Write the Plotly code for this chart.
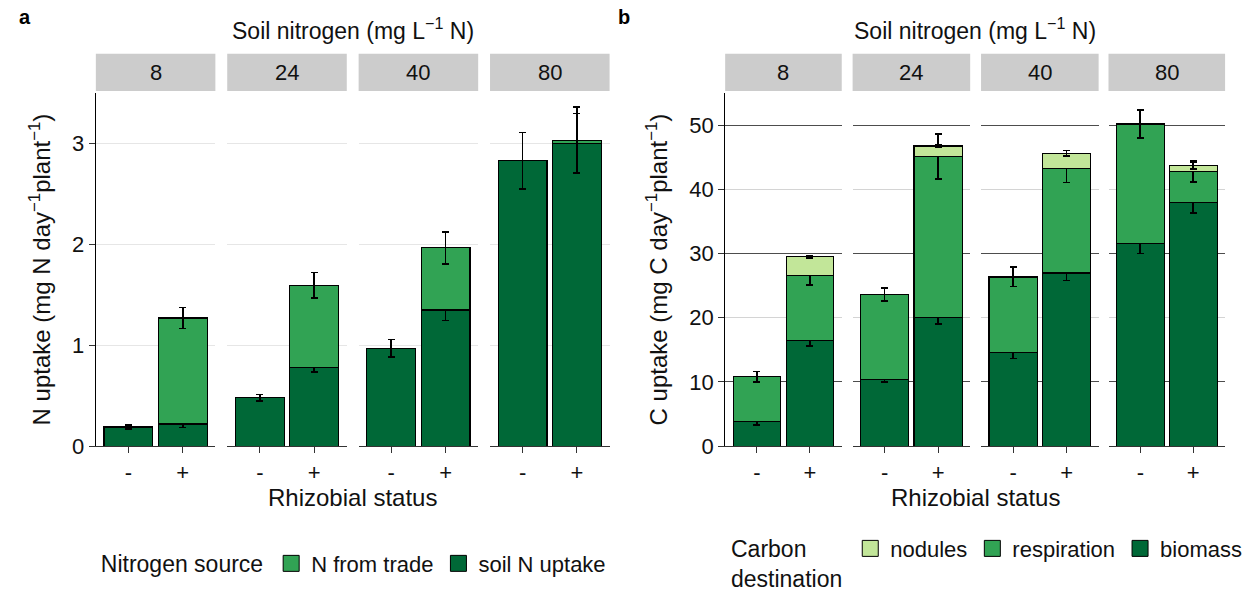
import plotly.graph_objects as go

W, H = 1247, 602
FONT = "Liberation Sans, Arial, sans-serif"

# ---------------- data ----------------
status = ["-", "+"]
soil_levels = ["8", "24", "40", "80"]

# Panel a: N uptake (mg N / day / plant); per soil-N level, values for [-, +]
soil_n_uptake = [[0.19, 0.22], [0.48, 0.78], [0.97, 1.35], [2.83, 3.00]]
soil_n_uptake_err = [[0.02, 0.035], [0.03, 0.045], [0.085, 0.105], [0.28, 0.295]]
n_from_trade = [[None, 1.05], [None, 0.815], [None, 0.615], [None, 0.03]]
n_from_trade_err = [[0, 0.105], [0, 0.125], [0, 0.16], [0, 0.33]]

# Panel b: C uptake (mg C / day / plant)
c_biomass = [[3.8, 16.45], [10.4, 20.0], [14.6, 26.95], [31.6, 37.95]]
c_biomass_err = [[0.5, 0.9], [0.4, 0.95], [0.95, 1.15], [1.6, 1.6]]
c_respiration = [[7.0, 10.15], [13.2, 25.1], [11.75, 16.3], [18.55, 4.8]]
c_respiration_err = [[0.85, 1.5], [1.0, 3.5], [1.5, 2.2], [2.2, 1.65]]
c_nodules = [[None, 2.9], [None, 1.65], [None, 2.35], [None, 0.9]]
c_nodules_err = [[0, 0.2], [0, 0.25], [0, 0.45], [0, 0.5]]

COL_DARK = "#006837"
COL_MID = "#31a354"
COL_LIGHT = "#c2e699"

# ---------------- layout geometry (pixels) ----------------
facets_a = [(97, 218), (230, 351), (363, 484), (496, 617)]
facets_b = [(734, 852), (863, 982), (993, 1112), (1122, 1240)]
plot_top, plot_bot = 95, 456
strip_top, strip_bot = 55, 93


def px(x):
    return x / W


def py(y):
    return 1 - y / H


fig = go.Figure()
layout = dict(
    width=W, height=H, autosize=False,
    margin=dict(l=0, r=0, t=0, b=0),
    paper_bgcolor="white", plot_bgcolor="white",
    font=dict(family=FONT, size=22, color="#111"),
    barmode="stack", bargap=0.1,
    showlegend=True,
)

annotations = []
shapes = []

err_style = dict(type="data", color="black", thickness=1.6, width=3.5)
bar_line = dict(color="black", width=1.2)


def add_bar(vals, errs, color, xa, ya, name):
    fig.add_trace(go.Bar(
        x=status, y=vals, xaxis=xa, yaxis=ya, name=name, showlegend=False,
        marker=dict(color=color, line=bar_line),
        error_y=dict(array=errs, **err_style),
    ))


def axis_common(k, domain, first, yrange, dtick, title, ytitle_standoff, gridcol):
    xa = "xaxis" if k == 1 else f"xaxis{k}"
    ya = "yaxis" if k == 1 else f"yaxis{k}"
    layout[xa] = dict(
        domain=[px(domain[0]), px(domain[1])], anchor=f"y{k}" if k > 1 else "y",
        type="category", categoryorder="array", categoryarray=status,
        range=[-0.6, 1.6], showgrid=False, zeroline=False,
        showline=True, linecolor="#333", linewidth=1.2,
        ticks="outside", ticklen=6, tickcolor="#333", tickwidth=1.2,
        tickfont=dict(size=22, color="#111"),
    )
    layout[ya] = dict(
        domain=[py(plot_bot), py(plot_top)], anchor=f"x{k}" if k > 1 else "x",
        range=yrange, dtick=dtick, tick0=0, zeroline=False,
        showgrid=True, gridcolor=gridcol, gridwidth=1,
        showline=first, linecolor="black", linewidth=1.2,
        ticks="outside" if first else "", ticklen=6, tickcolor="#333", tickwidth=1.2,
        showticklabels=first, tickfont=dict(size=22, color="#111"),
    )
    if first:
        layout[ya]["title"] = dict(text=title, font=dict(size=24, color="#111"),
                                   standoff=ytitle_standoff)


# Panel a
for i, lvl in enumerate(soil_levels):
    k = i + 1
    xa = "x" if k == 1 else f"x{k}"
    ya = "y" if k == 1 else f"y{k}"
    axis_common(k, facets_a[i], i == 0, [0, 3.5], 1,
                "N uptake (mg N day<sup>−1</sup>plant<sup>−1</sup>)", 14, "#e6e6e6")
    add_bar(soil_n_uptake[i], soil_n_uptake_err[i], COL_DARK, xa, ya, "soil N uptake")
    add_bar(n_from_trade[i], n_from_trade_err[i], COL_MID, xa, ya, "N from trade")

# Panel b
for i, lvl in enumerate(soil_levels):
    k = i + 5
    xa, ya = f"x{k}", f"y{k}"
    axis_common(k, facets_b[i], i == 0, [0, 55], 10,
                "C uptake (mg C day<sup>−1</sup>plant<sup>−1</sup>)", 14, "#d4d4d4")
    # overlay axis for the darker grid lines at 10, 30, 50
    ko = k + 4
    layout[f"yaxis{ko}"] = dict(
        overlaying=f"y{k}", anchor=f"x{k}", range=[0, 55], tick0=10, dtick=20,
        showgrid=True, gridcolor="#4d4d4d", gridwidth=1, zeroline=False,
        showticklabels=False, ticks="", showline=False,
    )
    fig.add_trace(go.Scatter(x=[], y=[], xaxis=xa, yaxis=f"y{ko}", showlegend=False,
                             hoverinfo="skip"))
    add_bar(c_biomass[i], c_biomass_err[i], COL_DARK, xa, ya, "biomass")
    add_bar(c_respiration[i], c_respiration_err[i], COL_MID, xa, ya, "respiration")
    add_bar(c_nodules[i], c_nodules_err[i], COL_LIGHT, xa, ya, "nodules")

# strips
for panel_facets, offset in ((facets_a, 1), (facets_b, 5)):
    for i, (x0, x1) in enumerate(panel_facets):
        shapes.append(dict(type="rect", xref="paper", yref="paper",
                           x0=px(x0), x1=px(x1), y0=py(strip_bot), y1=py(strip_top),
                           fillcolor="#cccccc", line=dict(width=0), layer="below"))
        annotations.append(dict(text=soil_levels[i], xref="paper", yref="paper",
                                x=px((x0 + x1) / 2), y=py((strip_top + strip_bot) / 2),
                                showarrow=False, font=dict(size=22, color="#111"),
                                xanchor="center", yanchor="middle"))

# titles
for lab, xx in (("a", 17), ("b", 624)):
    annotations.append(dict(text=f"<b>{lab}</b>", xref="paper", yref="paper",
                            x=px(xx), y=py(17), xanchor="left", yanchor="middle",
                            showarrow=False, font=dict(size=20, color="black")))
for facets in (facets_a, facets_b):
    cx = (facets[0][0] + facets[-1][1]) / 2
    annotations.append(dict(text="Soil nitrogen (mg L<sup>−1</sup> N)", xref="paper",
                            yref="paper", x=px(cx), y=py(30), xanchor="center",
                            yanchor="middle", showarrow=False,
                            font=dict(size=23, color="#111")))
    annotations.append(dict(text="Rhizobial status", xref="paper", yref="paper",
                            x=px(cx), y=py(508), xanchor="center", yanchor="middle",
                            showarrow=False, font=dict(size=24, color="#111")))

# legends (swatch entries)
def legend_entry(name, color, leg):
    fig.add_trace(go.Scatter(
        x=[None], y=[None], mode="markers", name=name, legend=leg,
        marker=dict(symbol="square", size=16, color=color,
                    line=dict(color="black", width=1)),
        xaxis="x", yaxis="y", showlegend=True))


legend_entry("N from trade", COL_MID, "legend")
legend_entry("soil N uptake", COL_DARK, "legend")
legend_entry("nodules", COL_LIGHT, "legend2")
legend_entry("respiration", COL_MID, "legend2")
legend_entry("biomass", COL_DARK, "legend2")

layout["legend"] = dict(
    orientation="h", x=px(100), y=py(576), xanchor="left", yanchor="middle",
    title=dict(text="Nitrogen source", side="left", font=dict(size=23, color="#111")),
    font=dict(size=22, color="#111"), bgcolor="rgba(0,0,0,0)", traceorder="normal",
    itemwidth=30,
)
layout["legend2"] = dict(
    orientation="h", x=px(738), y=py(575), xanchor="left", yanchor="middle",
    title=dict(text="Carbon<br>destination", side="left", font=dict(size=23, color="#111")),
    font=dict(size=22, color="#111"), bgcolor="rgba(0,0,0,0)", traceorder="normal",
    itemwidth=30,
)

layout["annotations"] = annotations
layout["shapes"] = shapes
fig.update_layout(**layout)
fig.write_html("out.html")
